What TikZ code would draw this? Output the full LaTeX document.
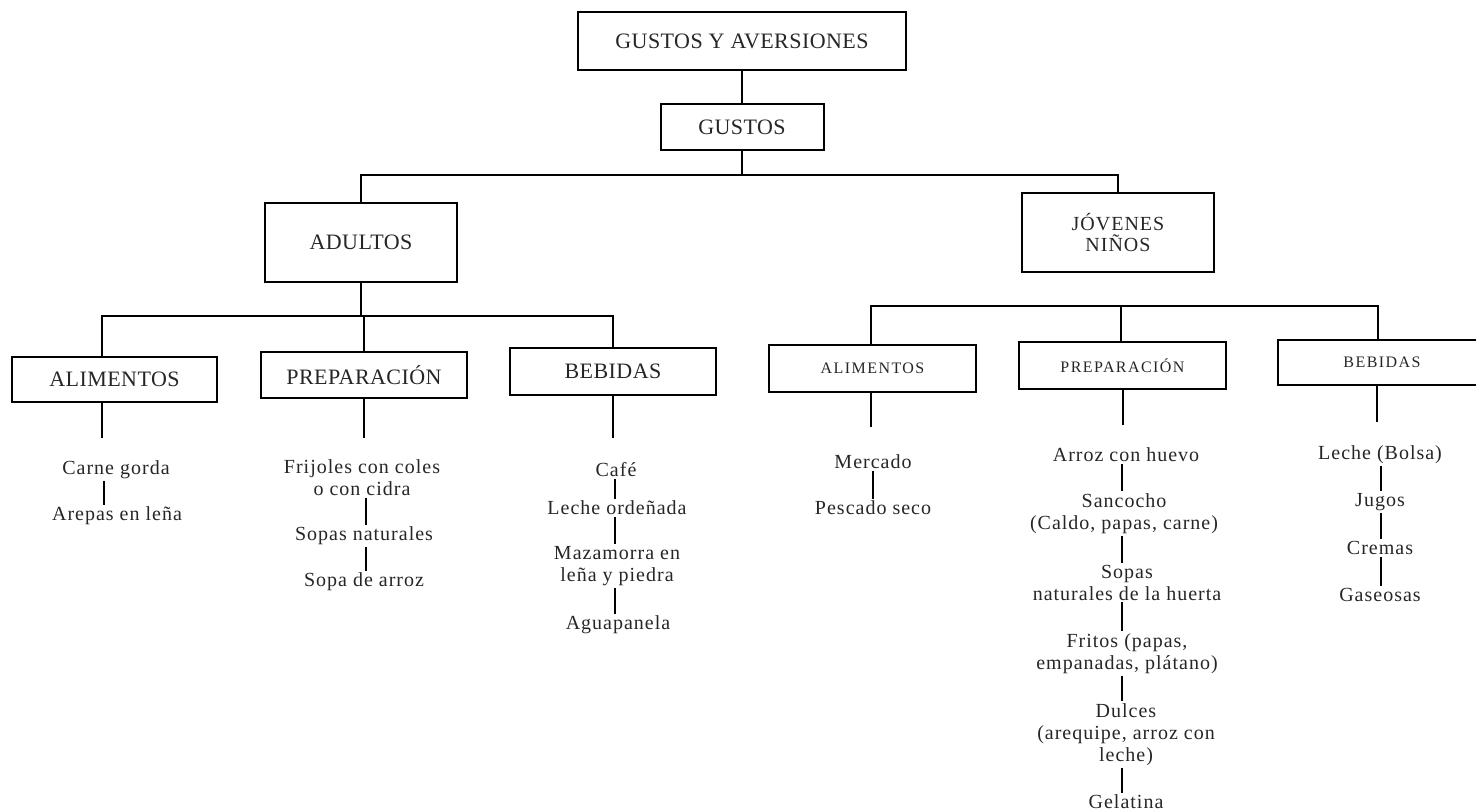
\documentclass[tikz,border=0pt]{standalone}
\usepackage{fontspec}
\setmainfont{Liberation Serif}
\newfontfamily\leaffont[LetterSpace=5]{Liberation Serif}
\newfontfamily\titlefont[LetterSpace=2]{Liberation Serif}
\newfontfamily\smalltitlefont[LetterSpace=9]{Liberation Serif}
\newfontfamily\jovfont[LetterSpace=5]{Liberation Serif}
\begin{document}
\begin{tikzpicture}[x=1pt,y=-1pt,
  box/.style={draw=black, line width=2pt, inner sep=0pt, align=center, text=black!85},
  conn/.style={draw=black, line width=1.8pt},
  bar/.style={draw=black, line width=2.2pt},
  leaf/.style={inner sep=2pt, align=center, text=black!85, font=\leaffont\fontsize{20}{22}\selectfont},
  bigtitle/.style={font=\titlefont\fontsize{22}{24}\selectfont},
  smalltitle/.style={font=\smalltitlefont\fontsize{16}{18}\selectfont},
  jovtitle/.style={font=\jovfont\fontsize{20}{21}\selectfont},
]
\useasboundingbox (0,0) rectangle (1476,811);
\clip (0,0) rectangle (1476,811);

% boxes
\node[box, bigtitle, minimum width=328pt, minimum height=58pt] (root) at (742,41) {GUSTOS Y AVERSIONES};
\node[box, bigtitle, minimum width=163pt, minimum height=46pt] (gustos) at (742,127) {GUSTOS};
\node[box, bigtitle, minimum width=192pt, minimum height=79pt] (adultos) at (361,242.5) {ADULTOS};
\node[box, jovtitle, minimum width=192pt, minimum height=79pt] (jovenes) at (1118,232.5) {JÓVENES\\NIÑOS};
\node[box, bigtitle, minimum width=205pt, minimum height=45pt] (la) at (114.5,379.5) {ALIMENTOS};
\node[box, bigtitle, minimum width=206pt, minimum height=46pt] (lp) at (364,375) {PREPARACIÓN};
\node[box, bigtitle, minimum width=206pt, minimum height=47pt] (lb) at (613,371.5) {BEBIDAS};
\node[box, smalltitle, minimum width=207pt, minimum height=47pt] (ra) at (872.5,368.5) {ALIMENTOS};
\node[box, smalltitle, minimum width=207pt, minimum height=47pt] (rp) at (1122.5,365.5) {PREPARACIÓN};
\node[box, smalltitle, minimum width=208pt, minimum height=45pt] (rb) at (1382,362.5) {BEBIDAS};

% bus coordinates
\coordinate (bus1) at (0,175);
\coordinate (bus2) at (0,316);
\coordinate (bus3) at (0,306);
\coordinate (xla) at (102,0);
\coordinate (xlp) at (364,0);
\coordinate (xlb) at (613,0);
\coordinate (xra) at (871,0);
\coordinate (xrp) at (1121,0);
\coordinate (xrb) at (1378,0);

% top connectors
\draw[conn] (root.south) -- (root.south |- gustos.north);
\draw[conn] (gustos.south) -- (gustos.south |- bus1);
\draw[conn] (adultos.north) -- (adultos.north |- bus1) -- (jovenes.north |- bus1) -- (jovenes.north);

% left group
\draw[conn] (adultos.south) -- (adultos.south |- bus2);
\draw[conn] (xla |- la.north) -- (xla |- bus2) -- (xlb |- bus2) -- (xlb |- lb.north);
\draw[conn] (xlp |- bus2) -- (xlp |- lp.north);

% right group
\draw[conn] (xra |- ra.north) -- (xra |- bus3) -- (xrb |- bus3) -- (xrb |- rb.north);
\draw[conn] (xrp |- bus3) -- (xrp |- rp.north);

% stubs below category boxes
\coordinate (sla) at (102,438);
\coordinate (slp) at (364,438);
\coordinate (slb) at (613,438);
\coordinate (sra) at (871,427);
\coordinate (srp) at (1123,425);
\coordinate (srb) at (1377,422);
\draw[conn] (sla |- la.south) -- (sla);
\draw[conn] (slp |- lp.south) -- (slp);
\draw[conn] (slb |- lb.south) -- (slb);
\draw[conn] (sra |- ra.south) -- (sra);
\draw[conn] (srp |- rp.south) -- (srp);
\draw[conn] (srb |- rb.south) -- (srb);

% leaves: left alimentos
\node[leaf] (a1) at (116,470) {Carne gorda};
\node[leaf] (a2) at (117,516) {Arepas en leña};
\coordinate (ca) at (104,0);
\draw[bar] (ca |- a1.south) -- (ca |- a2.north);

% leaves: left preparacion
\node[leaf] (p1) at (362,477.5) {Frijoles con coles\\o con cidra};
\node[leaf] (p2) at (364,536) {Sopas naturales};
\node[leaf] (p3) at (364,582) {Sopa de arroz};
\coordinate (cp) at (366,0);
\draw[bar] (cp |- p1.south) -- (cp |- p2.north);
\draw[bar] (cp |- p2.south) -- (cp |- p3.north);

% leaves: left bebidas
\node[leaf] (b1) at (616,470) {Café};
\node[leaf] (b2) at (617,508) {Leche ordeñada};
\node[leaf] (b3) at (617,566) {Mazamorra en\\leña y piedra};
\node[leaf] (b4) at (618,625) {Aguapanela};
\coordinate (cb) at (615,0);
\draw[bar] (cb |- b1.south) -- (cb |- b2.north);
\draw[bar] (cb |- b2.south) -- (cb |- b3.north);
\draw[bar] (cb |- b3.south) -- (cb |- b4.north);

% leaves: right alimentos
\node[leaf] (ra1) at (873,462) {Mercado};
\node[leaf] (ra2) at (873,508) {Pescado seco};
\coordinate (cra) at (873,0);
\draw[bar] (cra |- ra1.south) -- (cra |- ra2.north);

% leaves: right preparacion
\node[leaf] (rp1) at (1126,455) {Arroz con huevo};
\node[leaf] (rp2) at (1124,513.5) {Sancocho\\(Caldo, papas, carne)};
\node[leaf] (rp3) at (1127,582.5) {Sopas\\naturales de la huerta};
\node[leaf] (rp4) at (1127,653.5) {Fritos (papas,\\empanadas, plátano)};
\node[leaf] (rp5) at (1126,734.5) {Dulces\\(arequipe, arroz con\\leche)};
\node[leaf] (rp6) at (1126,802) {Gelatina};
\coordinate (crp) at (1122,0);
\draw[bar] (crp |- rp1.south) -- (crp |- rp2.north);
\draw[bar] (crp |- rp2.south) -- (crp |- rp3.north);
\draw[bar] (crp |- rp3.south) -- (crp |- rp4.north);
\draw[bar] (crp |- rp4.south) -- (crp |- rp5.north);
\draw[bar] (crp |- rp5.south) -- (crp |- rp6.north);

% leaves: right bebidas
\node[leaf] (rb1) at (1380,455) {Leche (Bolsa)};
\node[leaf] (rb2) at (1380,502) {Jugos};
\node[leaf] (rb3) at (1380,548) {Cremas};
\node[leaf] (rb4) at (1380,595) {Gaseosas};
\coordinate (crb) at (1381,0);
\draw[bar] (crb |- rb1.south) -- (crb |- rb2.north);
\draw[bar] (crb |- rb2.south) -- (crb |- rb3.north);
\draw[bar] (crb |- rb3.south) -- (crb |- rb4.north);
\end{tikzpicture}
\end{document}
